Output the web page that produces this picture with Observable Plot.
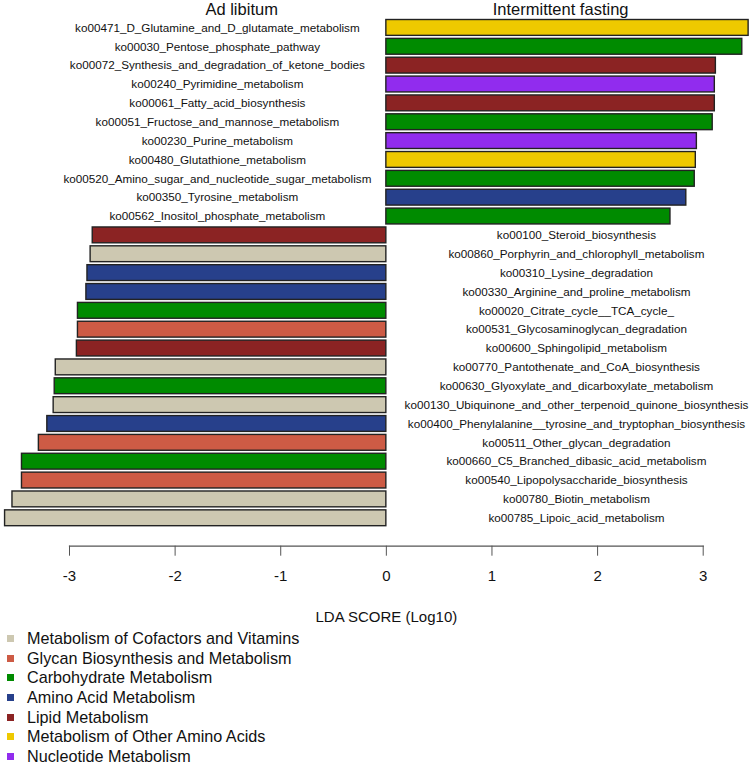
<!DOCTYPE html>
<html><head><meta charset="utf-8">
<script src="https://cdn.jsdelivr.net/npm/d3@7"></script>
<script src="https://cdn.jsdelivr.net/npm/@observablehq/plot@0.6"></script>
<style>
body{margin:0;background:#fff;font-family:"Liberation Sans",Arial,sans-serif;}
#legend{padding-left:7px;}
.row{height:19.6px;display:flex;align-items:center;font-size:16.2px;color:#111;white-space:nowrap;}
.sw{width:7px;height:7px;margin-right:13px;flex:none;}
</style></head><body><div id="chart"></div><div id="legend"></div>
<script>
const pathways = [
  "ko00471_D_Glutamine_and_D_glutamate_metabolism",
  "ko00030_Pentose_phosphate_pathway",
  "ko00072_Synthesis_and_degradation_of_ketone_bodies",
  "ko00240_Pyrimidine_metabolism",
  "ko00061_Fatty_acid_biosynthesis",
  "ko00051_Fructose_and_mannose_metabolism",
  "ko00230_Purine_metabolism",
  "ko00480_Glutathione_metabolism",
  "ko00520_Amino_sugar_and_nucleotide_sugar_metabolism",
  "ko00350_Tyrosine_metabolism",
  "ko00562_Inositol_phosphate_metabolism",
  "ko00100_Steroid_biosynthesis",
  "ko00860_Porphyrin_and_chlorophyll_metabolism",
  "ko00310_Lysine_degradation",
  "ko00330_Arginine_and_proline_metabolism",
  "ko00020_Citrate_cycle__TCA_cycle_",
  "ko00531_Glycosaminoglycan_degradation",
  "ko00600_Sphingolipid_metabolism",
  "ko00770_Pantothenate_and_CoA_biosynthesis",
  "ko00630_Glyoxylate_and_dicarboxylate_metabolism",
  "ko00130_Ubiquinone_and_other_terpenoid_quinone_biosynthesis",
  "ko00400_Phenylalanine__tyrosine_and_tryptophan_biosynthesis",
  "ko00511_Other_glycan_degradation",
  "ko00660_C5_Branched_dibasic_acid_metabolism",
  "ko00540_Lipopolysaccharide_biosynthesis",
  "ko00780_Biotin_metabolism",
  "ko00785_Lipoic_acid_metabolism"
];
const scores = [
  3.43, 3.37, 3.12, 3.11, 3.11, 3.09, 2.94, 2.93, 2.92, 2.84, 2.69,
  -2.78, -2.80, -2.83, -2.84, -2.92, -2.92, -2.93, -3.13, -3.14, -3.15,
  -3.21, -3.29, -3.45, -3.45, -3.54, -3.61
];
const classes = [
  "Metabolism of Other Amino Acids", "Carbohydrate Metabolism", "Lipid Metabolism",
  "Nucleotide Metabolism", "Lipid Metabolism", "Carbohydrate Metabolism",
  "Nucleotide Metabolism", "Metabolism of Other Amino Acids", "Carbohydrate Metabolism",
  "Amino Acid Metabolism", "Carbohydrate Metabolism",
  "Lipid Metabolism", "Metabolism of Cofactors and Vitamins", "Amino Acid Metabolism",
  "Amino Acid Metabolism", "Carbohydrate Metabolism", "Glycan Biosynthesis and Metabolism",
  "Lipid Metabolism", "Metabolism of Cofactors and Vitamins", "Carbohydrate Metabolism",
  "Metabolism of Cofactors and Vitamins", "Amino Acid Metabolism", "Glycan Biosynthesis and Metabolism",
  "Carbohydrate Metabolism", "Glycan Biosynthesis and Metabolism",
  "Metabolism of Cofactors and Vitamins", "Metabolism of Cofactors and Vitamins"
];
const categories = [
  "Metabolism of Cofactors and Vitamins",
  "Glycan Biosynthesis and Metabolism",
  "Carbohydrate Metabolism",
  "Amino Acid Metabolism",
  "Lipid Metabolism",
  "Metabolism of Other Amino Acids",
  "Nucleotide Metabolism"
];
const colors = ["#cdc8b1", "#cd5b45", "#008b00", "#27408b", "#8b2323", "#eec900", "#912cee"];
const groups = ["Ad libitum", "Intermittent fasting"];
const xTicks = [-3, -2, -1, 0, 1, 2, 3];
const axisTitle = "LDA SCORE (Log10)";

const rows = pathways.map((p, i) => ({pathway: p, score: scores[i], cls: classes[i]}));
const FONT = "'Liberation Sans', Arial, sans-serif";

const chart = Plot.plot({
  width: 750, height: 629,
  marginTop: 18, marginBottom: 83.3, marginLeft: 69, marginRight: 47.3,
  style: {fontFamily: FONT, background: "#fff", overflow: "visible"},
  x: {domain: [-3, 3]},
  y: {domain: pathways, axis: null, paddingInner: 0.16, paddingOuter: 0.08, insetBottom: 18.5, round: false},
  color: {domain: categories, range: colors},
  marks: [
    Plot.barX(rows, {x: "score", y: "pathway", fill: "cls", stroke: "#222", strokeWidth: 1.4}),
    Plot.text(rows, {x: d => d.score > 0 ? -1.6 : 1.8, y: "pathway", text: "pathway", fontSize: 11.7, fill: "#111"}),
    Plot.text(groups, {x: (d, i) => i === 0 ? -1.37 : 1.65, frameAnchor: "top", lineAnchor: "middle", dy: -8.3, text: d => d, fontSize: 16.5, fill: "#111"}),
    Plot.frame({anchor: "bottom", stroke: "#555", strokeWidth: 1.2}),
    Plot.axisX({ticks: xTicks, tickSize: 10, tickPadding: 14, fontSize: 15, stroke: "#555", fill: "#111",
      tickFormat: d => String(d).replace("−", "-"),
      label: axisTitle, labelAnchor: "center", labelOffset: 76, labelArrow: "none"})
  ]
});
document.getElementById("chart").appendChild(chart);

const legend = document.getElementById("legend");
categories.forEach((c, i) => {
  const row = document.createElement("div");
  row.className = "row";
  const sw = document.createElement("span");
  sw.className = "sw";
  sw.style.background = colors[i];
  const t = document.createElement("span");
  t.textContent = c;
  row.appendChild(sw); row.appendChild(t);
  legend.appendChild(row);
});
</script></body></html>
